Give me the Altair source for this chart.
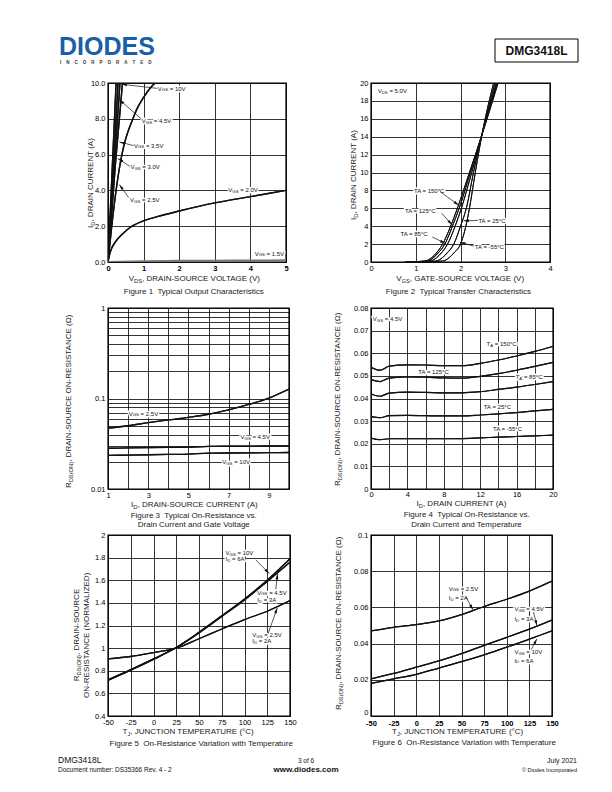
import math
import altair as alt
import pandas as pd

FONT = "Liberation Sans, Arial, Helvetica, sans-serif"
INK = "#111111"
TITLE = "#222222"
ONE = pd.DataFrame({"k": [0]})
NB = "\u00a0"

# ---------------- data ----------------
# Figure 1: Typical output characteristics (VDS [V] vs ID [A]) per VGS
f1_keys = ["10V", "4.5V", "3.5V", "3.0V", "2.5V", "2.0V"]
f1_vds = {
    "10V": [0.0, 0.235],
    "4.5V": [0.0, 0.29],
    "3.5V": [0.0, 0.345],
    "3.0V": [0.0, 0.21, 0.42],
    "2.5V": [0.0, 0.1, 0.2, 0.3, 0.4, 0.5, 0.6, 0.7, 0.8, 1.0, 1.2, 1.35],
    "2.0V": [0.0, 0.05, 0.1, 0.2, 0.4, 0.6, 1.0, 1.5, 2.0, 3.0, 4.0, 5.0],
    "1.5V": [0.0, 1.0, 2.0, 3.0, 4.0, 5.0],
}
f1_id = {
    "10V": [0.0, 10.3],
    "4.5V": [0.0, 10.3],
    "3.5V": [0.0, 10.3],
    "3.0V": [0.0, 5.5, 10.3],
    "2.5V": [0.0, 1.9, 3.6, 5.0, 6.1, 6.9, 7.5, 8.0, 8.5, 9.2, 9.75, 10.05],
    "2.0V": [0.0, 0.45, 0.75, 1.1, 1.55, 1.9, 2.3, 2.6, 2.85, 3.3, 3.65, 4.0],
    "1.5V": [0.0, 0.04, 0.06, 0.07, 0.08, 0.09],
}
f1_labels = [("V_{GS} = 10V", 1.40, 9.69), ("V_{GS} = 4.5V", 0.95, 7.89),
             ("V_{GS} = 3.5V", 0.73, 6.5), ("V_{GS} = 3.0V", 0.63, 5.29),
             ("V_{GS} = 2.5V", 0.62, 3.46), ("V_{GS} = 2.0V", 3.38, 4.02),
             ("V_{GS} = 1.5V", 4.12, 0.47)]
f1_arrows = [(1.38, 9.7, 0.38, 9.93), (0.93, 8.0, 0.32, 9.07), (0.72, 6.5, 0.32, 6.71),
             (0.61, 5.35, 0.28, 5.78), (0.58, 3.6, 0.32, 4.32)]

# Figure 2: transfer characteristics (VGS [V] at given ID levels) per TA
f2_keys = ["150", "125", "85", "25", "-55"]
f2_id = [0, 0.1, 0.5, 1, 2, 4, 6, 10, 15, 20]
f2_vgs = {
    "150": [0.75, 1.20, 1.36, 1.46, 1.60, 1.78, 1.93, 2.20, 2.53, 2.84],
    "125": [0.80, 1.25, 1.40, 1.50, 1.65, 1.82, 1.97, 2.22, 2.525, 2.82],
    "85": [0.90, 1.32, 1.47, 1.57, 1.71, 1.88, 2.02, 2.25, 2.52, 2.80],
    "25": [1.00, 1.45, 1.60, 1.70, 1.85, 2.00, 2.13, 2.29, 2.515, 2.77],
    "-55": [1.10, 1.60, 1.75, 1.85, 2.00, 2.12, 2.20, 2.33, 2.51, 2.74],
}
f2_labels = [("TA = 150°C", 0.96, 7.9), ("TA = 125°C", 0.76, 5.65), ("TA = 85°C", 0.66, 3.13),
             ("TA = 25°C", 2.40, 4.63), ("TA = -55°C", 2.32, 1.73)]
f2_arrows = [(1.55, 7.85, 1.96, 6.35), (1.58, 5.45, 1.81, 4.15), (1.37, 2.8, 1.66, 2.08),
             (2.39, 4.65, 2.07, 4.6), (2.3, 1.78, 1.99, 2.2)]

# Figure 3: RDS(ON) vs ID per VGS (log axis)
f3_id = [1, 2, 3, 4, 5, 6, 7, 8, 9, 10]
f3_keys = ["2.5V", "4.5V", "10V"]
f3_r = {
    "2.5V": [0.047, 0.050, 0.054, 0.058, 0.062, 0.067, 0.075, 0.086, 0.101, 0.127],
    "4.5V": [0.0282, 0.0284, 0.0286, 0.0288, 0.0290, 0.0296, 0.0297, 0.0298, 0.0299, 0.0300],
    "10V": [0.0235, 0.0237, 0.0239, 0.0241, 0.0243, 0.0249, 0.0250, 0.0251, 0.0252, 0.0253],
}
f3_labels = [("V_{GS} = 2.5V", 2.03, 0.068), ("V_{GS} = 4.5V", 7.59, 0.0375), ("V_{GS} = 10V", 6.68, 0.0198)]

# Figure 4: RDS(ON) vs ID per TA
f4_id = [0, 1, 2, 4, 6, 8, 10, 12, 14, 16, 18, 20]
f4_keys = ["150", "125", "85", "25", "-55"]
f4_r = {
    "150": [0.0538, 0.0525, 0.0543, 0.0549, 0.0548, 0.0545, 0.0545, 0.0555, 0.0570, 0.0588, 0.0608, 0.0630],
    "125": [0.0485, 0.0475, 0.0490, 0.0495, 0.0494, 0.0491, 0.0490, 0.0498, 0.0510, 0.0525, 0.0542, 0.0560],
    "85": [0.0420, 0.0410, 0.0424, 0.0428, 0.0427, 0.0425, 0.0425, 0.0430, 0.0440, 0.0450, 0.0462, 0.0475],
    "25": [0.0320, 0.0315, 0.0324, 0.0325, 0.0324, 0.0323, 0.0323, 0.0327, 0.0332, 0.0338, 0.0345, 0.0352],
    "-55": [0.0225, 0.0218, 0.0222, 0.0222, 0.0222, 0.0222, 0.0223, 0.0226, 0.0229, 0.0232, 0.0235, 0.0238],
}
f4_labels = [("V_{GS} = 4.5V", 0.2, 0.0751), ("T_{A} = 150°C", 12.7, 0.0641), ("TA = 125°C", 5.2, 0.0518),
             ("T_{A} = 85°C", 15.9, 0.0496), ("TA = 25°C", 12.4, 0.0364), ("TA = -55°C", 13.4, 0.0265)]

# Figure 5: normalized RDS(ON) vs TJ
tj = [-50, -25, 0, 25, 50, 75, 100, 125, 150]
f5_keys = ["10V", "4.5V", "2.5V"]
f5_r = {
    "10V": [0.715, 0.805, 0.900, 1.005, 1.140, 1.285, 1.435, 1.600, 1.790],
    "4.5V": [0.720, 0.810, 0.905, 1.005, 1.135, 1.280, 1.425, 1.590, 1.760],
    "2.5V": [0.905, 0.926, 0.961, 1.000, 1.083, 1.169, 1.252, 1.326, 1.420],
}
f5_labels = [("V_{GS} = 10V", 79.2, 1.84), ("I_{D} = 6A", 79.2, 1.785),
             ("V_{GS} = 4.5V", 114.0, 1.49), ("I_{D} = 3A", 114.0, 1.425),
             ("V_{GS} = 2.5V", 108.6, 1.118), ("I_{D} = 2A", 108.6, 1.063)]
f5_arrows = [(112.4, 1.78, 127.1, 1.66), (134.4, 1.52, 136.3, 1.655), (126.0, 1.13, 136.0, 1.355)]

# Figure 6: RDS(ON) vs TJ
f6_keys = ["2.5V", "4.5V", "10V"]
f6_r = {
    "2.5V": [0.0470, 0.0490, 0.0505, 0.0525, 0.0560, 0.0605, 0.0645, 0.0690, 0.0745],
    "4.5V": [0.0205, 0.0235, 0.0270, 0.0305, 0.0345, 0.0390, 0.0435, 0.0480, 0.0530],
    "10V": [0.0180, 0.0205, 0.0230, 0.0265, 0.0300, 0.0338, 0.0380, 0.0425, 0.0470],
}
f6_labels = [("V_{GS} = 2.5V", 35.9, 0.0704), ("I_{D} = 2A", 35.9, 0.0652),
             ("V_{GS} = 4.5V", 108.5, 0.0589), ("I_{D} = 3A", 108.5, 0.0537),
             ("V_{GS} = 10V", 108.5, 0.0352), ("I_{D} = 6A", 108.5, 0.0306)]
f6_arrows = [(54.9, 0.0658, 62.6, 0.0587), (129.6, 0.0574, 133.3, 0.0500), (127.0, 0.0367, 133.3, 0.0426)]

# ---------------- text helpers ----------------
CW = {" ": 278, NB: 278, "(": 333, ")": 333, ",": 278, "-": 333, ".": 278, ":": 278,
      "=": 584, "°": 400, "Ω": 768, "©": 737}
for _c in "0123456789":
    CW[_c] = 556
CW.update(dict(zip("ABCDEFGHIJKLMNOPQRSTUVWXYZ",
                   [667, 667, 722, 722, 667, 611, 778, 722, 278, 500, 667, 556, 833, 722, 778, 667,
                    778, 722, 667, 611, 722, 667, 944, 667, 667, 611])))
CW.update(dict(zip("abcdefghijklmnopqrstuvwxyz",
                   [556, 556, 500, 556, 556, 278, 556, 556, 222, 222, 500, 222, 833, 556, 556, 556,
                    556, 333, 500, 278, 556, 500, 722, 500, 500, 500])))


def tw(s, size):
    return sum(CW.get(c, 556) for c in s) * size / 1000.0


def parse(s):
    parts, buf, i = [], "", 0
    while i < len(s):
        if s.startswith("_{", i):
            if buf:
                parts.append((buf, False))
                buf = ""
            j = s.index("}", i)
            parts.append((s[i + 2:j], True))
            i = j + 1
        else:
            buf += s[i]
            i += 1
    if buf:
        parts.append((buf, False))
    return parts


def rich(text, x, y, size, angle=0, align="left", baseline="middle", color=INK,
         ctx=None, variant="ink"):
    """ctx = (xscale, yscale, xaxis, yaxis) for data-positioned text; None for pixel positions."""
    parts = parse(text)
    sizes = [size * 0.72 if sub else size for _, sub in parts]
    widths = [tw(t, z) for (t, _), z in zip(parts, sizes)]
    total = sum(widths)
    cum = {"left": 0.0, "center": -total / 2, "right": -total}[align]
    out = []
    for (t, sub), z, w in zip(parts, sizes, widths):
        lead = len(t) - len(t.lstrip(" "))
        txt = t.strip(" ")
        if txt:
            props = dict(text=txt, align="left", baseline=baseline,
                         dx=round(cum + tw(" " * lead, z), 2),
                         dy=round(size * 0.3, 2) if sub else 0,
                         angle=angle, fontSize=round(z, 2), font=FONT)
            if variant == "halo":
                props.update(color="white", stroke="white", strokeWidth=3, strokeJoin="round")
            else:
                props.update(color=color)
            m = alt.Chart(ONE).mark_text(**props)
            if ctx is None:
                m = m.encode(x=alt.value(x), y=alt.value(y))
            else:
                xs, ys, xa, ya = ctx
                m = m.encode(x=alt.XDatum(x, scale=xs, axis=xa, title=None, type="quantitative"),
                             y=alt.YDatum(y, scale=ys, axis=ya, title=None, type="quantitative"))
            out.append(m)
        cum += w
    return out


def labels(items, ctx, size=6):
    halo, ink = [], []
    for t, x, y in items:
        halo += rich(t, x, y, size, ctx=ctx, variant="halo")
        ink += rich(t, x, y, size, ctx=ctx)
    return halo, ink


ARROW = "M0,0L0.42,1.6L-0.42,1.6Z"


def arrows(rows, ctx, sx, sy, logy=False):
    xs, ys, xa, ya = ctx
    recs = []
    for x1, y1, x2, y2 in rows:
        dxs = (x2 - x1) * sx
        if logy:
            dys = -(math.log10(y2) - math.log10(y1)) * sy
        else:
            dys = -(y2 - y1) * sy
        ang = math.degrees(math.atan2(dxs, -dys)) % 360
        recs.append(dict(x1=x1, y1=y1, x2=x2, y2=y2, ang=round(ang, 2)))
    base = alt.Chart(pd.DataFrame(recs))
    rule = base.mark_rule(color=INK, strokeWidth=0.7).encode(
        x=alt.X("x1:Q", scale=xs, axis=xa, title=None),
        y=alt.Y("y1:Q", scale=ys, axis=ya, title=None),
        x2="x2:Q", y2="y2:Q")
    head = base.mark_point(shape=ARROW, filled=True, color=INK, opacity=1, size=45, strokeWidth=0).encode(
        x=alt.X("x2:Q", scale=xs, axis=xa, title=None),
        y=alt.Y("y2:Q", scale=ys, axis=ya, title=None),
        angle=alt.Angle("ang:Q", scale=None))
    return [rule, head]


def axis(values, fmt=None, expr=None, bold=False, pad=3, raise_zero=False):
    kw = dict(values=values, grid=True, gridColor="black", gridWidth=0.8, gridOpacity=1,
              domain=False, ticks=False, labelFont=FONT, labelFontSize=7.5, labelColor="black",
              labelPadding=pad, labelFlush=False, labelOverlap=False, title=None)
    if fmt:
        kw["format"] = fmt
    if expr:
        kw["labelExpr"] = expr
    if bold:
        kw["labelFontWeight"] = "bold"
    if raise_zero:
        kw["labelBaseline"] = {"condition": {"test": "datum.value == 0", "value": "bottom"}, "value": "middle"}
    return alt.Axis(**kw)


def lines(xd, yd, keys, ctx, width=1.2, color=INK):
    xs, ys, xa, ya = ctx
    recs = []
    for k in keys:
        xv = xd[k] if isinstance(xd, dict) else xd
        yv = yd[k] if isinstance(yd, dict) else yd
        for i, (a, b) in enumerate(zip(xv, yv)):
            recs.append(dict(s=k, x=a, y=b, o=i))
    return alt.Chart(pd.DataFrame(recs)).mark_line(
        color=color, strokeWidth=width, interpolate="monotone", clip=True).encode(
        x=alt.X("x:Q", scale=xs, axis=xa, title=None),
        y=alt.Y("y:Q", scale=ys, axis=ya, title=None),
        detail="s:N", order="o:Q")


def panel(layers, w, h):
    return alt.layer(*layers).properties(
        width=w, height=h, view=alt.ViewBackground(stroke="black", strokeWidth=1.4))


def lin(d):
    return alt.Scale(domain=d, nice=False, zero=False)


def ttl(text, x, y, angle=0):
    return rich(text, x, y, 8, angle=angle, align="center", baseline="alphabetic", color=TITLE)


HYPHEN = "replace(datum.label, '\u2212', '-')"

# ---------------- Figure 1 ----------------
W1, H1 = 178, 179
k1 = (lin([0, 5]), lin([0, 10]), axis([0, 1, 2, 3, 4, 5], "d", bold=True, pad=2), axis([0, 2, 4, 6, 8, 10], ".1f"))
h1, t1 = labels(f1_labels, k1)
c1 = panel(
    [lines(f1_vds, f1_id, f1_keys, k1, width=1.4)] + h1
    + [lines(f1_vds, f1_id, f1_keys, k1, width=1.4),
       lines(f1_vds, f1_id, ["1.5V"], k1, width=2.2, color="#777777")]
    + arrows(f1_arrows, k1, W1 / 5, H1 / 10)
    + t1
    + ttl("V_{DS}, DRAIN-SOURCE VOLTAGE (V)", 87, 198)
    + ttl("Figure 1" + NB + " Typical Output Characteristics", 86, 211)
    + ttl("I_{D}, DRAIN CURRENT (A)", -15.5, 100, angle=270),
    W1, H1)

# ---------------- Figure 2 ----------------
W2, H2 = 179, 179
k2 = (lin([0, 4]), lin([0, 20]), axis([0, 1, 2, 3, 4], "d", pad=2), axis(list(range(0, 21, 2)), "d"))
h2, t2 = labels(f2_labels, k2)
c2 = panel(
    [lines(f2_vgs, f2_id, f2_keys, k2, width=1.0)] + h2
    + [lines(f2_vgs, f2_id, f2_keys, k2, width=1.0)]
    + arrows(f2_arrows, k2, W2 / 4, H2 / 20)
    + t2
    + rich("V_{DS} = 5.0V", 0.15, 19.06, 6, ctx=k2)
    + ttl("V_{GS}, GATE-SOURCE VOLTAGE (V)", 90, 198)
    + ttl("Figure 2" + NB + " Typical Transfer Characteristics", 88, 211)
    + ttl("I_{D}, DRAIN CURRENT (A)", -15, 92, angle=270),
    W2, H2)

# ---------------- Figure 3 ----------------
W3, H3 = 181, 181
f3_yvals = [round(m * 10 ** e, 4) for e in (-2, -1) for m in range(1, 10)] + [1]
k3 = (lin([1, 10]), alt.Scale(type="log", domain=[0.01, 1], nice=False),
      axis(list(range(1, 11)), "d", "datum.value % 2 == 1 ? datum.label : ''", pad=2),
      axis(f3_yvals, "~g", "datum.value == 0.01 || datum.value == 0.1 || datum.value == 1 ? datum.label : ''"))
h3, t3 = labels(f3_labels, k3)
c3 = panel(
    [lines(f3_id, f3_r, f3_keys, k3, width=1.3)] + h3
    + [lines(f3_id, f3_r, f3_keys, k3, width=1.3)]
    + t3
    + ttl("I_{D}, DRAIN-SOURCE CURRENT (A)", 86.5, 198.5)
    + ttl("Figure 3" + NB + " Typical On-Resistance vs.", 86, 209.5)
    + ttl("Drain Current and Gate Voltage", 86, 219)
    + ttl("R_{DS(ON)}, DRAIN-SOURCE ON-RESISTANCE (Ω)", -37, 93, angle=270),
    W3, H3)

# ---------------- Figure 4 ----------------
W4, H4 = 182, 181
k4 = (lin([0, 20]), lin([0, 0.08]),
      axis(list(range(0, 21, 2)), "d", "datum.value % 4 == 0 ? datum.label : ''", pad=1.5),
      axis([0, 0.01, 0.02, 0.03, 0.04, 0.05, 0.06, 0.07, 0.08], "~g"))
h4, t4 = labels(f4_labels, k4)
c4 = panel(
    [lines(f4_id, f4_r, f4_keys, k4, width=1.2)] + h4
    + [lines(f4_id, f4_r, f4_keys, k4, width=1.2)]
    + t4
    + ttl("I_{D}, DRAIN CURRENT (A)", 90.5, 197.5)
    + ttl("Figure 4" + NB + " Typical On-Resistance vs.", 96, 208.5)
    + ttl("Drain Current and Temperature", 96, 218.5)
    + ttl("R_{DS(ON)}, DRAIN-SOURCE ON-RESISTANCE (Ω)", -31, 91, angle=270),
    W4, H4)

# ---------------- Figure 5 ----------------
W5, H5 = 182, 181
k5 = (lin([-50, 150]), lin([0.4, 2.0]), axis(tj, "d", HYPHEN, pad=2),
      axis([0.4, 0.6, 0.8, 1.0, 1.2, 1.4, 1.6, 1.8, 2.0], "~g"))
h5, t5 = labels(f5_labels, k5)
c5 = panel(
    [lines(tj, f5_r, f5_keys, k5, width=1.3)] + h5
    + [lines(tj, f5_r, f5_keys, k5, width=1.3)]
    + arrows(f5_arrows, k5, W5 / 200, H5 / 1.6)
    + t5
    + ttl("T_{J}, JUNCTION TEMPERATURE (°C)", 80.5, 198.5)
    + ttl("Figure 5" + NB + " On-Resistance Variation with Temperature", 94, 211)
    + ttl("R_{DS(ON)}, DRAIN-SOURCE", -29, 100, angle=270)
    + ttl("ON-RESISTANCE (NORMALIZED)", -19, 100, angle=270),
    W5, H5)

# ---------------- Figure 6 ----------------
W6, H6 = 181, 181
k6 = (lin([-50, 150]), lin([0, 0.1]), axis(tj, "d", HYPHEN, bold=True, pad=3),
      axis([0, 0.02, 0.04, 0.06, 0.08, 0.1], "~g", raise_zero=True))
h6, t6 = labels(f6_labels, k6)
c6 = panel(
    [lines(tj, f6_r, f6_keys, k6, width=1.3)] + h6
    + [lines(tj, f6_r, f6_keys, k6, width=1.3)]
    + arrows(f6_arrows, k6, W6 / 200, H6 / 0.1)
    + t6
    + ttl("T_{J}, JUNCTION TEMPERATURE (°C)", 87, 199)
    + ttl("Figure 6" + NB + " On-Resistance Variation with Temperature", 94, 209.5)
    + ttl("R_{DS(ON)}, DRAIN-SOURCE ON-RESISTANCE (Ω)", -30, 88, angle=270),
    W6, H6)


# ---------------- header / footer ----------------
def txt(t, x, y, size, align="left", weight="normal", color=INK, baseline="alphabetic"):
    return alt.Chart(ONE).mark_text(text=t, font=FONT, fontSize=size, fontWeight=weight, color=color,
                                    align=align, baseline=baseline).encode(x=alt.value(x), y=alt.value(y))


BLUE = "#1b5fa8"
INCORP = (NB * 4).join("INCORPORATED")
head_l = alt.layer(
    txt("DIODES", -49, 47, 25, weight="bold", color=BLUE),
    txt(INCORP, -48, 55.5, 4.5, weight="bold", color="#333333"),
).properties(width=182, height=29)

head_r = alt.layer(
    alt.Chart(ONE).mark_rect(fillOpacity=0, stroke="black", strokeWidth=1).encode(
        x=alt.value(124), x2=alt.value(207), y=alt.value(31), y2=alt.value(54)),
    txt("DMG3418L", 165.5, 43, 12, align="center", weight="bold", baseline="middle"),
).properties(width=182, height=29)

foot_l = alt.layer(
    txt("DMG3418L", -50, 1, 8.5),
    txt("Document number: DS35366 Rev. 4 - 2", -50, 10, 6.5),
    txt("3 of 6", 198, 1, 6.5, align="center"),
    txt("www.diodes.com", 198, 10, 8, align="center", weight="bold"),
).properties(width=182, height=20)

foot_r = alt.layer(
    txt("July 2021", 206, 1, 7, align="right"),
    txt("© Diodes Incorporated", 206, 10, 5.5, align="right"),
).properties(width=182, height=20)

chart = alt.concat(
    head_l, head_r, c1, c2, c3, c4, c5, c6, foot_l, foot_r,
    columns=2, spacing=alt.RowColnumber(row=46, column=81), bounds="flush", align="each",
).properties(
    padding={"left": 50, "top": 0, "right": 5, "bottom": 5}
).configure_view(stroke=None)

chart.save("out.html", embed_options={"renderer": "svg", "actions": False})
